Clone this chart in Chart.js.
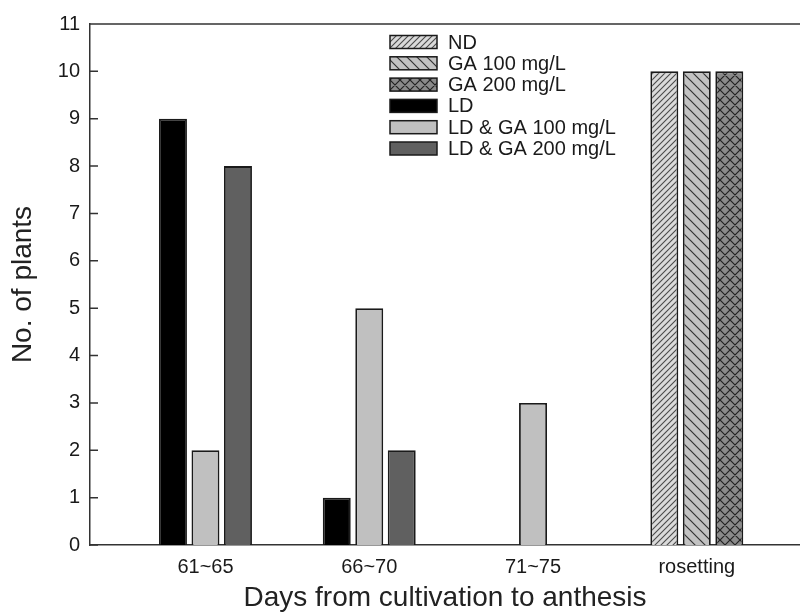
<!DOCTYPE html>
<html><head><meta charset="utf-8">
<script src="https://cdn.jsdelivr.net/npm/chart.js@4"></script>
<style>html,body{margin:0;padding:0;background:#fff}#wrap{width:800px;height:616px}</style>
</head><body><div id="wrap"><canvas id="c" width="800" height="616"></canvas></div>
<script>
const categories = ['61~65', '66~70', '71~75', 'rosetting'];
const seriesLabels = ['ND', 'GA 100 mg/L', 'GA 200 mg/L', 'LD', 'LD & GA 100 mg/L', 'LD & GA 200 mg/L'];
const ndValues      = [null, null, null, 10];
const ga100Values   = [null, null, null, 10];
const ga200Values   = [null, null, null, 10];
const ldValues      = [9, 1, 0, null];
const ldGa100Values = [2, 5, 3, null];
const ldGa200Values = [8, 2, 0, null];
const yTickValues = [0,1,2,3,4,5,6,7,8,9,10,11];

function makePattern(size, bg, lineColor, lw, dirs) {
  const c = document.createElement('canvas');
  c.width = size; c.height = size;
  const g = c.getContext('2d');
  g.fillStyle = bg; g.fillRect(0, 0, size, size);
  g.strokeStyle = lineColor; g.lineWidth = lw;
  g.beginPath();
  if (dirs.includes('/')) {
    g.moveTo(-1, size + 1); g.lineTo(size + 1, -1);
    g.moveTo(-1, 1); g.lineTo(1, -1);
    g.moveTo(size - 1, size + 1); g.lineTo(size + 1, size - 1);
  }
  if (dirs.includes('\\')) {
    g.moveTo(-1, -1); g.lineTo(size + 1, size + 1);
    g.moveTo(size - 1, -1); g.lineTo(size + 1, 1);
    g.moveTo(-1, size - 1); g.lineTo(1, size + 1);
  }
  g.stroke();
  return g.createPattern(c, 'repeat');
}
const ndFill = makePattern(6, '#dadada', '#4a4a4a', 1.1, '/');
const ga100Fill = makePattern(10, '#c2c2c2', '#333', 1.2, '\\');
const ga200Fill = makePattern(10, '#8a8a8a', '#222', 1.2, '/\\');

const toPts = arr => categories.map((c, i) => ({x: i, y: arr[i]}));
const FONT = "'Liberation Sans', Arial, sans-serif";

const seriesValues = [ndValues, ga100Values, ga200Values, ldValues, ldGa100Values, ldGa200Values];
const fills = [ndFill, ga100Fill, ga200Fill, '#000000', '#c0c0c0', '#606060'];
const stacks = ['s1', 's2', 's3', 's1', 's2', 's3'];

const datasets = seriesValues.map((v, i) => ({
  label: seriesLabels[i],
  data: toPts(v),
  backgroundColor: fills[i],
  borderColor: '#1a1a1a',
  borderWidth: 1.8,
  borderSkipped: 'bottom',
  stack: stacks[i],
  categoryPercentage: 0.595,
  barPercentage: 0.86
}));

const extrasPlugin = {
  id: 'extras',
  afterDatasetsDraw(chart) {
    const {ctx, chartArea: a, scales: {y}} = chart;
    ctx.save();
    ctx.strokeStyle = '#333'; ctx.lineWidth = 1.5;
    ctx.beginPath();
    ctx.moveTo(a.left, a.top); ctx.lineTo(a.right, a.top);
    y.ticks.forEach(t => {
      const py = y.getPixelForValue(t.value);
      ctx.moveTo(a.left, py); ctx.lineTo(a.left + 8, py);
    });
    ctx.stroke();
    // legend
    ctx.font = '20px ' + FONT;
    ctx.textBaseline = 'middle';
    chart.data.datasets.forEach((ds, i) => {
      const yy = 42 + 21.3 * i;
      ctx.fillStyle = ds.backgroundColor;
      ctx.fillRect(390, yy - 6.5, 47, 13);
      ctx.lineWidth = 1.5; ctx.strokeStyle = '#1a1a1a';
      ctx.strokeRect(390, yy - 6.5, 47, 13);
      ctx.fillStyle = '#1a1a1a';
      ctx.fillText(ds.label, 448, yy + 1);
    });
    ctx.restore();
  }
};

new Chart(document.getElementById('c'), {
  type: 'bar',
  data: { datasets },
  options: {
    responsive: false,
    animation: false,
    layout: { padding: { top: 24, right: 0, left: 0, bottom: 0 } },
    plugins: { legend: { display: false }, tooltip: { enabled: false } },
    scales: {
      x: {
        type: 'linear',
        offset: false,
        min: -0.705, max: 3.63,
        stacked: true,
        grid: { display: false, drawTicks: false, offset: false },
        border: { display: true, color: '#333', width: 1.5 },
        afterBuildTicks: s => { s.ticks = categories.map((c, i) => ({value: i})); },
        afterFit: s => { s.height = 71; },
        ticks: {
          autoSkip: false, maxRotation: 0,
          padding: 10,
          color: '#1a1a1a',
          font: { family: FONT, size: 20 },
          callback: v => categories[v]
        },
        title: {
          display: true,
          text: 'Days from cultivation to anthesis',
          color: '#222',
          font: { family: FONT, size: 28 },
          padding: { top: 0, bottom: 1 }
        }
      },
      y: {
        min: 0, max: 11,
        stacked: true,
        grid: { display: false, drawTicks: false },
        border: { display: true, color: '#333', width: 1.5 },
        afterBuildTicks: s => { s.ticks = yTickValues.map(v => ({value: v})); },
        afterFit: s => { s.width = 90; },
        ticks: {
          padding: 10,
          color: '#1a1a1a',
          font: { family: FONT, size: 20 }
        },
        title: {
          display: true,
          text: 'No. of plants',
          color: '#222',
          font: { family: FONT, size: 28 },
          padding: { top: 6, bottom: 0 }
        }
      }
    }
  },
  plugins: [extrasPlugin]
});
</script></body></html>
